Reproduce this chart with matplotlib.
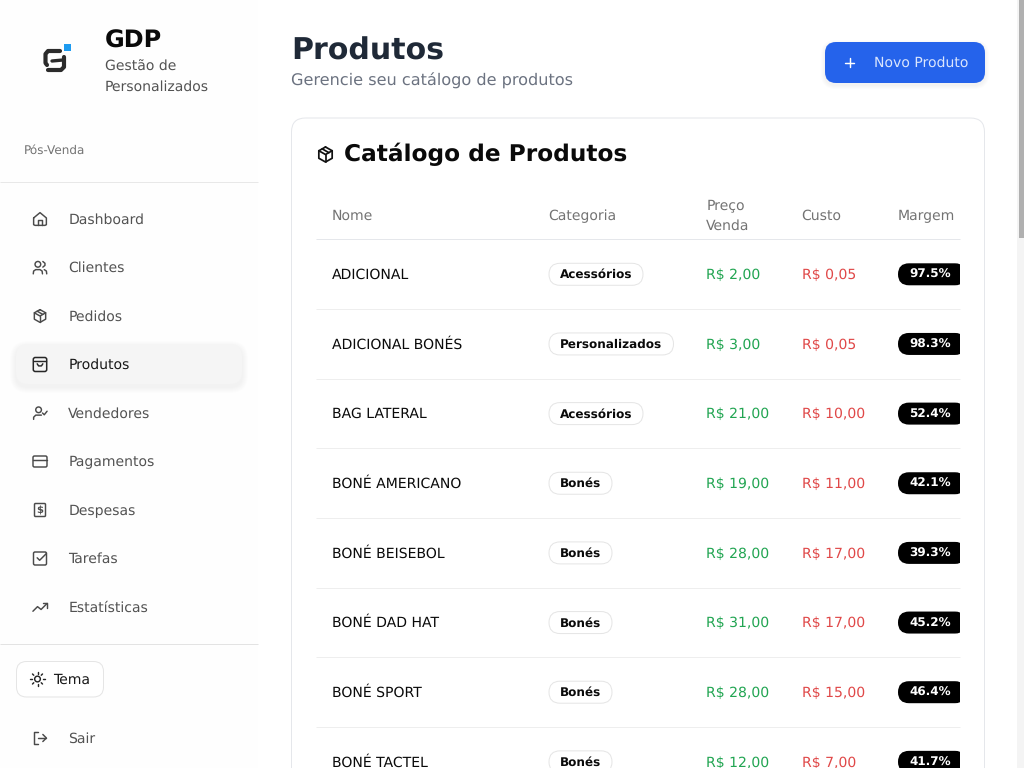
import numpy as np
import matplotlib
matplotlib.use("agg")
import matplotlib.pyplot as plt
from matplotlib.patches import FancyBboxPatch, Rectangle, Circle

plt.rcParams["font.family"] = ["DejaVu Sans"]
plt.rcParams["text.hinting"] = "no_hinting"

# dados da tela
nav_items = ["Dashboard", "Clientes", "Pedidos", "Produtos", "Vendedores",
             "Pagamentos", "Despesas", "Tarefas", "Estatísticas"]
headers = ["Nome", "Categoria", "Custo", "Margem"]
nomes = ["ADICIONAL", "ADICIONAL BONÉS", "BAG LATERAL", "BONÉ AMERICANO",
         "BONÉ BEISEBOL", "BONÉ DAD HAT", "BONÉ SPORT", "BONÉ TACTEL"]
categorias = ["Acessórios", "Personalizados", "Acessórios", "Bonés",
              "Bonés", "Bonés", "Bonés", "Bonés"]
precos = ["R$ 2,00", "R$ 3,00", "R$ 21,00", "R$ 19,00",
          "R$ 28,00", "R$ 31,00", "R$ 28,00", "R$ 12,00"]
custos = ["R$ 0,05", "R$ 0,05", "R$ 10,00", "R$ 11,00",
          "R$ 17,00", "R$ 17,00", "R$ 15,00", "R$ 7,00"]
margens = ["97.5%", "98.3%", "52.4%", "42.1%", "39.3%", "45.2%", "46.4%", "41.7%"]
pill_larguras = {"Acessórios": 94, "Personalizados": 124.5, "Bonés": 63}

fig = plt.figure(figsize=(10.24, 7.68), dpi=100)
ax = fig.add_axes([0, 0, 1, 1])
ax.set_xlim(0, 1024)
ax.set_ylim(768, 0)
ax.axis("off")

ICON = "#4a4a4a"
ICON_ON = "#262626"


def px(size):
    return size * 0.72


def txt(x, y, s, size=14, color="#4b5563", weight="normal", ha="left", **kw):
    # y = centro das maiúsculas; usa baseline para não variar com descendentes
    return ax.text(x, y + 0.365 * size - 0.5, s, fontsize=px(size), color=color, fontweight=weight,
                   ha=ha, va="baseline", **kw)


def rbox(x0, y0, x1, y1, r, fc="white", ec="none", lw=0.72, z=1, alpha=None):
    p = FancyBboxPatch((x0, y0), x1 - x0, y1 - y0, boxstyle=f"round,pad=0,rounding_size={r}",
                       fc=fc, ec=ec, lw=lw, zorder=z, alpha=alpha)
    ax.add_patch(p)
    return p


def hline(x0, x1, y, color="#e5e7eb", lw=1):
    ax.plot([x0, x1], [y, y], color=color, lw=lw * 0.72, solid_capstyle="butt", zorder=2)


def shadow(x0, y0, x1, y1, r, dy=3, passes=6, alpha=0.012):
    for i in range(passes, 0, -1):
        rbox(x0 - i, y0 - i + dy, x1 + i, y1 + i + dy, r + i, fc="black", z=1, alpha=alpha)


def line(cx, cy, pts, color=ICON, lw=1.05, s=17 / 24):
    # coordenadas do ícone em grade 24x24
    xs = [cx + (p[0] - 12) * s for p in pts]
    ys = [cy + (p[1] - 12) * s for p in pts]
    ax.plot(xs, ys, color=color, lw=lw, solid_capstyle="round", solid_joinstyle="round", zorder=5)


def circ(cx, cy, x, y, r, color=ICON, lw=1.05, s=17 / 24):
    ax.add_patch(Circle((cx + (x - 12) * s, cy + (y - 12) * s), r * s, fc="none", ec=color, lw=lw, zorder=5))


def box_icon(cx, cy, color=ICON, lw=1.05, s=17 / 24):
    line(cx, cy, [(12, 3), (20, 7.5), (20, 16.5), (12, 21), (4, 16.5), (4, 7.5), (12, 3)], color, lw, s)
    line(cx, cy, [(4, 7.5), (12, 12), (20, 7.5)], color, lw, s)
    line(cx, cy, [(12, 12), (12, 21)], color, lw, s)
    line(cx, cy, [(8, 5.2), (16, 9.8)], color, lw, s)


def ic_home(cx, cy):
    line(cx, cy, [(3, 10.5), (12, 3), (21, 10.5), (21, 20), (19, 21), (5, 21), (3, 20), (3, 10.5)])
    line(cx, cy, [(9, 21), (9, 13), (15, 13), (15, 21)])


def ic_users(cx, cy):
    circ(cx, cy, 9, 7.5, 4)
    line(cx, cy, [(2.5, 21), (3, 17), (6, 15), (12, 15), (15, 17), (15.5, 21)])
    line(cx, cy, [(16, 3.5), (19, 6), (19, 9), (16, 11.5)])
    line(cx, cy, [(18, 15), (21, 17), (21.5, 21)])


def ic_bag(cx, cy):
    rbox(cx - 6.7, cy - 7, cx + 6.7, cy + 7, 2, fc="none", ec=ICON_ON, lw=1.1, z=5)
    line(cx, cy, [(3, 7), (21, 7)], ICON_ON)
    line(cx, cy, [(8, 11), (10, 14), (14, 14), (16, 11)], ICON_ON)


def ic_usercheck(cx, cy):
    circ(cx, cy, 10, 7.5, 4)
    line(cx, cy, [(3, 21), (3, 18), (6, 15), (14, 15)])
    line(cx, cy, [(15.5, 12), (18, 14.5), (22, 9.5)])


def ic_card(cx, cy):
    rbox(cx - 7, cy - 5.5, cx + 7, cy + 5.5, 1.5, fc="none", ec=ICON, lw=1.05, z=5)
    line(cx, cy, [(2, 10), (22, 10)])


def ic_dollar(cx, cy):
    rbox(cx - 5.5, cy - 6.5, cx + 5.5, cy + 6.5, 1, fc="none", ec=ICON, lw=1.05, z=5)
    txt(cx, cy, "$", size=10, color=ICON, weight="bold", ha="center", zorder=5)


def ic_check(cx, cy):
    rbox(cx - 6.5, cy - 6.5, cx + 6.5, cy + 6.5, 1.5, fc="none", ec=ICON, lw=1.05, z=5)
    line(cx, cy, [(8, 11), (11.5, 14.5), (21, 5)])


def ic_trend(cx, cy):
    line(cx, cy, [(2, 18), (8.5, 11.5), (13.5, 15.5), (22, 7)])
    line(cx, cy, [(16, 7), (22, 7), (22, 13)])


def ic_sun(cx, cy):
    circ(cx, cy, 12, 12, 4, color="#262626")
    for a in np.arange(0, 360, 45):
        c, sn = np.cos(np.radians(a)), np.sin(np.radians(a))
        line(cx, cy, [(12 + 7.5 * c, 12 + 7.5 * sn), (12 + 10 * c, 12 + 10 * sn)], "#262626")


def ic_logout(cx, cy):
    line(cx, cy, [(9, 3), (4, 3), (4, 21), (9, 21)])
    line(cx, cy, [(9, 12), (21, 12)])
    line(cx, cy, [(16, 7), (21, 12), (16, 17)])


nav_icons = [ic_home, ic_users, box_icon, ic_bag, ic_usercheck, ic_card, ic_dollar, ic_check, ic_trend]

# fundo e barra lateral
ax.add_patch(Rectangle((0, 0), 258, 768, fc="#fefefe", ec="none", zorder=0))
hline(0, 258, 182, "#e8e8e8")
hline(0, 258, 644, "#e3e3e3")

# logo (em pixels da tela, s=1 e origem em 12,12)
line(12, 12, [(60, 51), (48, 51), (45.5, 54), (45.5, 63), (47, 65)], "#2b2b2b", 3.0, s=1.0)
line(12, 12, [(64, 57), (64, 67), (61, 70), (48, 70)], "#2b2b2b", 3.0, s=1.0)
line(12, 12, [(52, 61), (63, 60)], "#2b2b2b", 2.4, s=1.0)
ax.add_patch(Rectangle((64, 44), 6.5, 6.5, fc="#1d9bf0", ec="none", zorder=6))
txt(105, 39.5, "GDP", size=24, color="#0a0a0a", weight="bold")
txt(105, 66.5, "Gestão de", size=14, color="#525252")
txt(105, 86.5, "Personalizados", size=14, color="#525252")
txt(24, 149.5, "Pós-Venda", size=12, color="#737373")

# menu
y_nav = 219 + 48.5 * np.arange(len(nav_items))
shadow(16, 344, 242, 384, 12, alpha=0.007)
rbox(16, 344, 242, 384, 12, fc="#f5f5f5", z=2)
for i, (nome, y) in enumerate(zip(nav_items, y_nav)):
    ativo = nome == "Produtos"
    txt(68.2, y, nome, size=14, color="#171717" if ativo else "#525252")
    nav_icons[i](40, y)

# botão tema e sair
rbox(16.5, 661.5, 103.5, 697, 10, fc="white", ec="#e5e5e5", z=2)
ic_sun(37.5, 679)
txt(53.3, 679, "Tema", size=14, color="#171717")
ic_logout(40, 738)
txt(68.2, 738, "Sair", size=14, color="#525252")

# cabeçalho da página
txt(291, 49.5, "Produtos", size=30, color="#1f2937", weight="bold")
txt(291, 80, "Gerencie seu catálogo de produtos", size=16.1, color="#6b7280")
shadow(825, 42, 985, 83, 11, dy=2, passes=4, alpha=0.012)
rbox(825, 42, 985, 83, 11, fc="#2563eb", z=3)
line(849.5, 62.5, [(5, 12), (19, 12)], "white", 1.05)
line(849.5, 62.5, [(12, 5), (12, 19)], "white", 1.05)
txt(873.5, 62.5, "Novo Produto", size=14, color="#dbe6fd", zorder=5)

# cartão
rbox(291.5, 118, 984.5, 800, 14, fc="white", ec="#e5e7eb", z=1)
box_icon(325.5, 154.5, color="#111111", lw=1.25, s=20 / 24)
txt(344, 153.5, "Catálogo de Produtos", size=23.3, color="#0a0a0a", weight="bold")

# tabela
x_cols = [332, 548.2, 801.7, 898]
for x, h in zip(x_cols, headers):
    txt(x, 215, h, size=14, color="#737373")
txt(706.3, 205, "Preço", size=14, color="#737373")
txt(706.3, 225, "Venda", size=14, color="#737373")
hline(316, 960, 239, "#e5e7eb")

y_rows = 274.3 + 69.65 * np.arange(len(nomes))
clip = Rectangle((316, 0), 644, 768, transform=ax.transData)
for i, y in enumerate(y_rows):
    if i < len(nomes) - 1:
        hline(316, 960, y + 34.8, "#eeeeee")
    txt(332, y, nomes[i], size=14, color="#0a0a0a")
    w = pill_larguras[categorias[i]]
    rbox(549, y - 11, 549 + w, y + 11, 11, fc="white", ec="#e5e5e5", z=2)
    txt(560, y, categorias[i], size=12, color="#0a0a0a", weight="bold", zorder=3)
    txt(706.3, y, precos[i], size=14, color="#22a552")
    txt(801.7, y, custos[i], size=14, color="#e04848")
    p = rbox(898, y - 11, 966, y + 11, 11, fc="black", z=2)
    p.set_clip_path(clip)
    txt(909, y, margens[i], size=12, color="white", weight="bold", zorder=3)

# barra de rolagem
ax.add_patch(Rectangle((1017, 0), 7, 768, fc="#f4f4f4", ec="none", zorder=1))
ax.add_patch(Rectangle((1019, 0), 5, 238, fc="#b0b0b0", ec="none", zorder=2))

fig.savefig("out.png", dpi=100)
